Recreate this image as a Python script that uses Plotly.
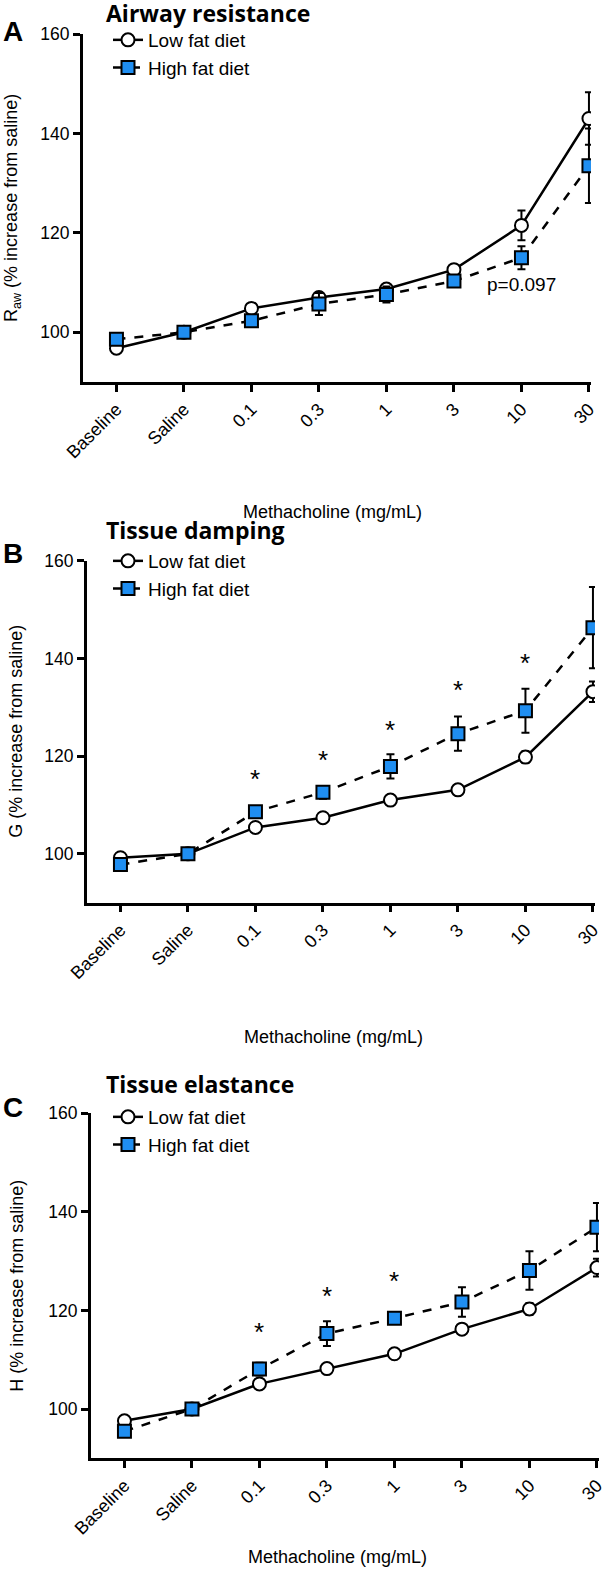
import plotly.graph_objects as go

W, H = 603, 1570

doses = ["Baseline", "Saline", "0.1", "0.3", "1", "3", "10", "30"]

# Panel A - airway resistance
raw_low = [96.8, 100, 104.8, 107.0, 108.7, 112.6, 121.5, 143.0]
raw_low_err = [0.6, 0, 0.5, 1.0, 0.8, 0.8, 3.0, 5.3]
raw_high = [98.6, 100, 102.3, 105.7, 107.6, 110.3, 115.0, 133.5]
raw_high_err = [0.8, 0, 0.8, 2.2, 1.6, 1.2, 2.3, 7.5]
raw_note_x, raw_note_y = "10", 109.7

# Panel B - tissue damping
g_low = [99.2, 100, 105.4, 107.4, 111.0, 113.1, 119.8, 133.2]
g_low_err = [0.5, 0, 0.5, 0.5, 0.7, 0.7, 1.2, 2.1]
g_high = [97.8, 100, 108.6, 112.6, 117.9, 124.6, 129.3, 146.3]
g_high_err = [0.8, 0, 1.0, 1.3, 2.5, 3.5, 4.5, 8.3]
g_star_x = ["0.1", "0.3", "1", "3", "10"]
g_star_y = [116.5, 120.4, 126.5, 134.8, 140.2]

# Panel C - tissue elastance
h_low = [97.6, 100, 105.1, 108.2, 111.2, 116.2, 120.3, 128.7]
h_low_err = [0.5, 0, 0.5, 0.5, 0.5, 1.0, 1.2, 1.8]
h_high = [95.5, 100, 108.1, 115.3, 118.4, 121.7, 128.1, 136.9]
h_high_err = [0.7, 0, 1.3, 2.5, 1.0, 3.0, 3.9, 4.9]
h_star_x = ["0.1", "0.3", "1"]
h_star_y = [116.8, 124.1, 127.2]

y_ticks = [100, 120, 140, 160]
BLUE = "#1f8ef1"
FONT = "Liberation Sans, Arial, sans-serif"


def px(x):
    return x / W


def py(y):
    return 1 - y / H


# panel geometry in pixels: y-axis x, plot top, plot bottom, step between doses
panels = [
    dict(letter="A", title="Airway resistance", ytitle="R<sub>aw</sub> (% increase from saline)",
         low=raw_low, low_err=raw_low_err, high=raw_high, high_err=raw_high_err,
         stars=([], []), x0=82.7, top=34, bottom=382, step=67.5,
         title_y=13, letter_y=32, leg_y=21, ytitle_x=13, xtitle_y=512, xtitle_x=332),
    dict(letter="B", title="Tissue damping", ytitle="G (% increase from saline)",
         low=g_low, low_err=g_low_err, high=g_high, high_err=g_high_err,
         stars=(g_star_x, g_star_y), x0=86.7, top=560.7, bottom=902.7, step=67.5,
         title_y=530, letter_y=553, leg_y=542, ytitle_x=16, xtitle_y=1037, xtitle_x=333),
    dict(letter="C", title="Tissue elastance", ytitle="H (% increase from saline)",
         low=h_low, low_err=h_low_err, high=h_high, high_err=h_high_err,
         stars=(h_star_x, h_star_y), x0=90.7, top=1113.3, bottom=1458.3, step=67.5,
         title_y=1084, letter_y=1107, leg_y=1098, ytitle_x=17, xtitle_y=1557, xtitle_x=337),
]

fig = go.Figure()
annotations = []
layout = {}

for i, p in enumerate(panels):
    n = "" if i == 0 else str(i + 1)
    leg = "legend" + n
    x_end = p["x0"] + 7.53 * p["step"]

    err_style = dict(type="data", color="black", thickness=2, width=4)
    fig.add_trace(go.Scatter(
        x=doses, y=p["low"], name="Low fat diet", mode="lines+markers",
        error_y=dict(array=p["low_err"], **err_style),
        line=dict(color="black", width=2.5),
        marker=dict(symbol="circle", size=13, color="white", line=dict(color="black", width=2)),
        xaxis="x" + n, yaxis="y" + n, legend=leg,
    ))
    fig.add_trace(go.Scatter(
        x=doses, y=p["high"], name="High fat diet", mode="lines+markers",
        error_y=dict(array=p["high_err"], **err_style),
        line=dict(color="black", width=2.5, dash="dash"),
        marker=dict(symbol="square", size=13, color=BLUE, line=dict(color="black", width=2)),
        xaxis="x" + n, yaxis="y" + n, legend=leg,
    ))

    layout["xaxis" + n] = dict(
        domain=[px(p["x0"]), px(x_end)], anchor="y" + n, type="category",
        categoryorder="array", categoryarray=doses, range=[-0.5, 7.03], automargin=False,
        showline=True, linewidth=2.5, linecolor="black", ticks="outside",
        ticklen=7, tickwidth=2.5, tickcolor="black", tickangle=-45,
        showgrid=False, zeroline=False, tickfont=dict(family=FONT, size=18, color="black"),
    )
    layout["yaxis" + n] = dict(
        domain=[py(p["bottom"]), py(p["top"])], anchor="x" + n, range=[90, 160],
        tickvals=y_ticks, showline=True, linewidth=2.5, linecolor="black", automargin=False,
        ticks="outside", ticklen=7, tickwidth=2.5, tickcolor="black",
        showgrid=False, zeroline=False, tickfont=dict(family=FONT, size=17.5, color="black"),
    )
    layout[leg] = dict(
        x=px(108), y=py(p["leg_y"]), xanchor="left", yanchor="top",
        font=dict(family=FONT, size=19, color="black"), bgcolor="rgba(0,0,0,0)",
        itemclick=False, tracegroupgap=0,
    )

    annotations.append(dict(
        text="<b>%s</b>" % p["title"], xref="paper", yref="paper",
        x=px(104), y=py(p["title_y"]), xanchor="left", yanchor="middle", showarrow=False,
        font=dict(family="Open Sans, sans-serif", size=23, color="black"),
    ))
    annotations.append(dict(
        text="<b>%s</b>" % p["letter"], xref="paper", yref="paper",
        x=px(1), y=py(p["letter_y"]), xanchor="left", yanchor="middle", showarrow=False,
        font=dict(family=FONT, size=28, color="black"),
    ))
    annotations.append(dict(
        text=p["ytitle"], xref="paper", yref="paper", textangle=-90,
        x=px(p["ytitle_x"]), y=py((p["top"] + p["bottom"]) / 2), xanchor="center", yanchor="middle",
        showarrow=False, font=dict(family=FONT, size=18, color="black"),
    ))
    annotations.append(dict(
        text="Methacholine (mg/mL)", xref="paper", yref="paper",
        x=px(p["xtitle_x"]), y=py(p["xtitle_y"]), xanchor="center", yanchor="middle",
        showarrow=False, font=dict(family=FONT, size=18, color="black"),
    ))
    for sx, sy in zip(*p["stars"]):
        annotations.append(dict(
            text="*", xref="x" + n, yref="y" + n, x=doses.index(sx), y=sy, yshift=-6,
            showarrow=False, font=dict(family=FONT, size=26, color="black"),
        ))

annotations.append(dict(
    text="p=0.097", xref="x", yref="y", x=doses.index(raw_note_x), y=raw_note_y, showarrow=False,
    font=dict(family=FONT, size=19, color="black"),
))

fig.update_layout(
    width=W, height=H, margin=dict(l=0, r=0, t=0, b=0, autoexpand=False),
    paper_bgcolor="white", plot_bgcolor="white",
    showlegend=True, annotations=annotations, **layout,
)

# the page body has a default 8px margin; drop it so the figure sits at the window corner
fig.write_html("out.html", config={"displayModeBar": False},
               post_script="document.body.style.margin='0';")
